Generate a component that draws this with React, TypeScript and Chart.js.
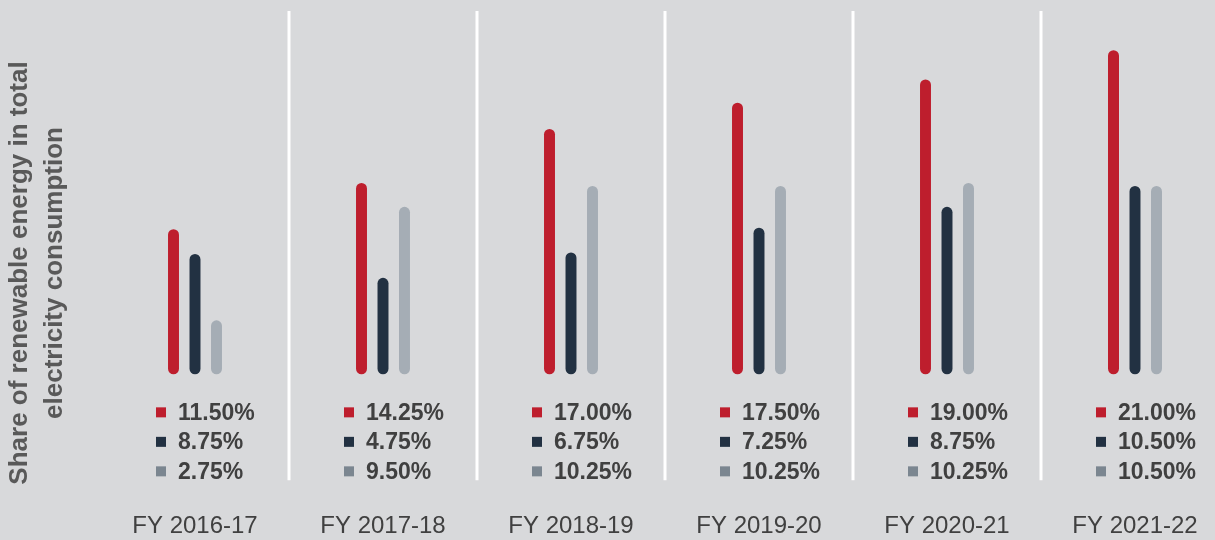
import React, { useEffect, useRef } from "react";
import { Chart, registerables } from "chart.js";

Chart.register(...registerables);

// Categories
const years = ["FY 2016-17", "FY 2017-18", "FY 2018-19", "FY 2019-20", "FY 2020-21", "FY 2021-22"];

// Bar heights as drawn in the picture (chart units)
const barsRed = [9.4, 12.4, 15.9, 17.6, 19.1, 21.0];
const barsDark = [7.8, 6.25, 7.9, 9.5, 10.85, 12.2];
const barsLight = [3.5, 10.85, 12.2, 12.2, 12.4, 12.2];

// Printed share values (%)
const shareRed = [11.5, 14.25, 17.0, 17.5, 19.0, 21.0];
const shareDark = [8.75, 4.75, 6.75, 7.25, 8.75, 10.5];
const shareLight = [2.75, 9.5, 10.25, 10.25, 10.25, 10.5];

const titleLines = ["Share of renewable energy in total", "electricity consumption"];

const RED = "#be1e2d";
const DARK = "#223142";
const LIGHT = "#a5adb5";
const LIGHT_KEY = "#7b8690";
const BG = "#d8d9db";
const TEXT = "#404040";
const FONT = "'Liberation Sans', Arial, sans-serif";

const overlayPlugin = {
  id: "overlay",
  beforeDatasetsDraw(chart: any) {
    const { ctx, chartArea } = chart;
    const xs = chart.scales.x;
    const ys = chart.scales.y;
    const base = ys.getPixelForValue(0);
    ctx.save();
    ctx.strokeStyle = "#ffffff";
    ctx.lineWidth = 3;
    for (let i = 0; i < years.length - 1; i++) {
      const xm = (xs.getPixelForValue(i) + xs.getPixelForValue(i + 1)) / 2;
      ctx.beginPath();
      ctx.moveTo(xm, chartArea.top + 1);
      ctx.lineTo(xm, base + 106);
      ctx.stroke();
    }
    ctx.restore();
  },
  afterDraw(chart: any) {
    const { ctx } = chart;
    const xs = chart.scales.x;
    const ys = chart.scales.y;
    const base = ys.getPixelForValue(0);
    const rows = [
      { vals: shareRed, color: RED },
      { vals: shareDark, color: DARK },
      { vals: shareLight, color: LIGHT_KEY },
    ];
    ctx.save();
    ctx.font = `bold 23px ${FONT}`;
    ctx.textBaseline = "middle";
    ctx.textAlign = "left";
    for (let i = 0; i < years.length; i++) {
      const cx = xs.getPixelForValue(i);
      rows.forEach((r, k) => {
        const cy = base + 38 + k * 29.5;
        ctx.fillStyle = r.color;
        ctx.fillRect(cx - 39, cy - 5, 10, 10);
        ctx.fillStyle = TEXT;
        ctx.fillText(r.vals[i].toFixed(2) + "%", cx - 17, cy + 1);
      });
    }
    // rotated axis title
    ctx.fillStyle = "#595959";
    ctx.font = `bold 26px ${FONT}`;
    ctx.textAlign = "center";
    ctx.textBaseline = "alphabetic";
    const bx = [27, 62];
    titleLines.forEach((line, k) => {
      ctx.save();
      ctx.translate(bx[k], 273);
      ctx.rotate(-Math.PI / 2);
      ctx.fillText(line, 0, 0);
      ctx.restore();
    });
    ctx.restore();
  },
};

export default function App() {
  const ref = useRef<HTMLCanvasElement | null>(null);

  useEffect(() => {
    if (!ref.current) return;
    const barCommon = {
      borderRadius: 6,
      borderSkipped: false,
      categoryPercentage: 0.343,
      barPercentage: 0.51,
    };
    const chart = new Chart(ref.current, {
      type: "bar",
      data: {
        labels: years,
        datasets: [
          { label: "A", data: barsRed, backgroundColor: RED, ...barCommon },
          { label: "B", data: barsDark, backgroundColor: DARK, ...barCommon },
          { label: "C", data: barsLight, backgroundColor: LIGHT, ...barCommon },
        ],
      },
      options: {
        animation: false,
        responsive: false,
        layout: { padding: { left: 101, right: 11, top: 10, bottom: -5 } },
        plugins: {
          legend: { display: false },
          tooltip: { enabled: false },
        },
        scales: {
          x: {
            grid: { display: false, drawTicks: false },
            border: { display: false },
            ticks: {
              color: TEXT,
              padding: 4,
              font: { family: FONT, size: 24 },
              maxRotation: 0,
              autoSkip: false,
            },
          },
          y: {
            display: false,
            min: -8.67,
            max: 23.6,
          },
        },
      } as any,
      plugins: [overlayPlugin],
    });
    return () => chart.destroy();
  }, []);

  return (
    <div
      style={{
        position: "fixed",
        left: 0,
        top: 0,
        width: 1215,
        height: 540,
        overflow: "hidden",
        background: BG,
      }}
    >
      <canvas ref={ref} width={1240} height={540} style={{ display: "block" }} />
    </div>
  );
}
